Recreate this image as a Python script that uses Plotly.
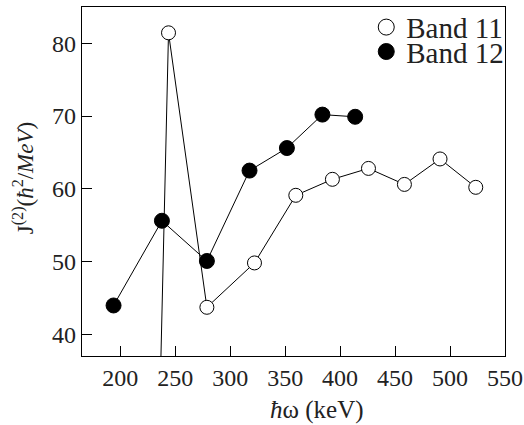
import plotly.graph_objects as go

band11_x = [234.4, 243.9, 278.8, 322.1, 359.7, 393.0, 425.8, 458.5, 490.9, 523.4]
band11_y = [20.0, 81.45, 43.7, 49.8, 59.1, 61.3, 62.8, 60.6, 64.1, 60.2]
band12_x = [193.9, 237.9, 278.8, 317.6, 351.6, 383.9, 413.7]
band12_y = [43.95, 55.6, 50.07, 62.5, 65.6, 70.2, 69.9]
x_ticks = [200, 250, 300, 350, 400, 450, 500, 550]
y_ticks = [40, 50, 60, 70, 80]

FONT = "Liberation Serif, Times New Roman, serif"
fig = go.Figure()
fig.add_trace(go.Scatter(x=band11_x, y=band11_y, mode="lines+markers", showlegend=False,
                         line=dict(color="black", width=1),
                         marker=dict(symbol="circle", size=14, color="white",
                                     line=dict(color="black", width=1)), cliponaxis=True))
fig.add_trace(go.Scatter(x=band12_x, y=band12_y, mode="lines+markers", showlegend=False,
                         line=dict(color="black", width=1),
                         marker=dict(symbol="circle", size=15, color="black",
                                     line=dict(color="black", width=1))))
fig.add_trace(go.Scatter(x=[None], y=[None], mode="markers", name="Band 11", legend="legend",
                         marker=dict(symbol="circle", size=17, color="white",
                                     line=dict(color="black", width=1))))
fig.add_trace(go.Scatter(x=[None], y=[None], mode="markers", name="Band 12", legend="legend2",
                         marker=dict(symbol="circle", size=17, color="black",
                                     line=dict(color="black", width=1))))

axis_common = dict(showgrid=False, zeroline=False, showline=True, linecolor="black", linewidth=1.3,
                   mirror=True, ticks="inside", ticklen=10, tickcolor="black", tickwidth=1,
                   tickfont=dict(family=FONT, size=24, color="#222"))
fig.update_xaxes(range=[165.2, 550], tickvals=x_ticks, **axis_common)
fig.update_yaxes(range=[37, 85], tickvals=y_ticks, **axis_common)

leg_common = dict(font=dict(family=FONT, size=29, color="#222"), bgcolor="rgba(0,0,0,0)",
                  xanchor="left", yanchor="middle", borderwidth=0)
fig.update_layout(
    width=524, height=425, margin=dict(l=82, r=19, t=2, b=69),
    plot_bgcolor="white", paper_bgcolor="white",
    font=dict(family=FONT, color="#222"),
    legend=dict(x=0.672, y=0.942, **leg_common),
    legend2=dict(x=0.672, y=0.872, **leg_common),
    annotations=[
        dict(text="<i>ħ</i>ω (keV)", xref="paper", yref="paper", x=0.555, y=-0.155,
             xanchor="center", yanchor="middle", showarrow=False,
             font=dict(family=FONT, size=25, color="#222")),
        dict(text="J<sup>(2)</sup>(<i>ħ</i><sup>2</sup>/<i>MeV</i>)", xref="paper", yref="paper",
             x=-0.139, y=0.51, xanchor="center", yanchor="middle", textangle=-90, showarrow=False,
             font=dict(family=FONT, size=23, color="#222")),
    ],
)
fig.write_html("out.html", config={"displayModeBar": False})
with open("out.html", encoding="utf-8") as f:
    html = f.read()
html = html.replace("<head>", "<head><style>html,body{margin:0;padding:0;overflow:hidden}</style>", 1)
with open("out.html", "w", encoding="utf-8") as f:
    f.write(html)
